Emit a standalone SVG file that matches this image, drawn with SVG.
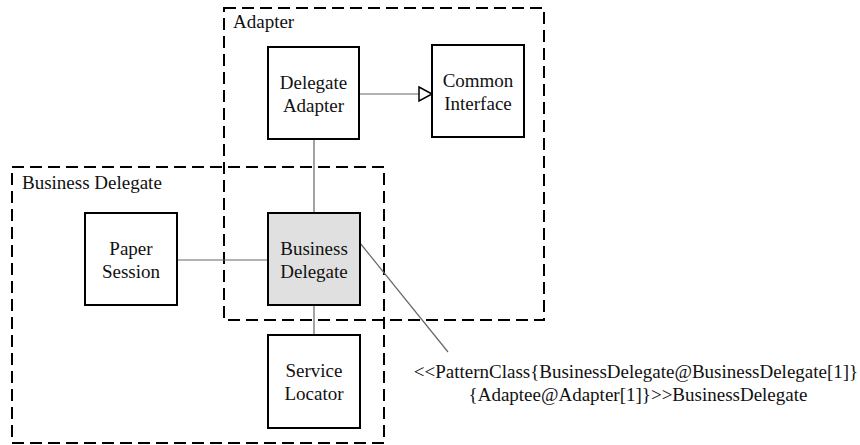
<svg xmlns="http://www.w3.org/2000/svg" width="860" height="445" viewBox="0 0 860 445">
<style>
.frame{fill:none;stroke:#000;stroke-width:2;stroke-dasharray:12,6}
.box{fill:#fff;stroke:#000;stroke-width:2}
.hl{fill:#e0e0e0}
.conn{fill:none;stroke:#666;stroke-width:1.2}
text{font-family:"Liberation Serif","Times New Roman",serif;font-size:19px;fill:#111}
.c{text-anchor:middle}
</style>
<defs>
<marker id="tri" markerWidth="16" markerHeight="16" refX="14" refY="8" orient="auto" markerUnits="userSpaceOnUse">
<path d="M1,1 L14,8 L1,15 Z" fill="#fff" stroke="#000" stroke-width="1.5"/>
</marker>
</defs>
<g id="frame-adapter">
<rect class="frame" x="224" y="8" width="320" height="312"/>
<text x="233" y="28">Adapter</text>
</g>
<g id="frame-business-delegate">
<rect class="frame" x="12" y="167" width="372" height="276"/>
<text x="22" y="189">Business Delegate</text>
</g>
<g id="connectors">
<line class="conn" x1="360" y1="94" x2="432" y2="94" marker-end="url(#tri)"/>
<line class="conn" x1="314" y1="139" x2="314" y2="213"/>
<line class="conn" x1="177" y1="260" x2="268" y2="260"/>
<line class="conn" x1="314" y1="305" x2="314" y2="335"/>
<line class="conn" x1="360" y1="243" x2="448" y2="352"/>
</g>
<g id="delegate-adapter">
<rect class="box" x="268" y="47" width="91" height="92"/>
<text class="c" x="313.5" y="89">Delegate</text>
<text class="c" x="313.5" y="112">Adapter</text>
</g>
<g id="common-interface">
<rect class="box" x="432" y="45" width="92" height="92"/>
<text class="c" x="478" y="87">Common</text>
<text class="c" x="478" y="110">Interface</text>
</g>
<g id="paper-session">
<rect class="box" x="85" y="213" width="92" height="92"/>
<text class="c" x="131" y="255">Paper</text>
<text class="c" x="131" y="278">Session</text>
</g>
<g id="business-delegate">
<rect class="box hl" x="268" y="213" width="92" height="92"/>
<text class="c" x="314" y="255">Business</text>
<text class="c" x="314" y="278">Delegate</text>
</g>
<g id="service-locator">
<rect class="box" x="268" y="335" width="92" height="93"/>
<text class="c" x="314" y="377">Service</text>
<text class="c" x="314" y="400">Locator</text>
</g>
<g id="note">
<text class="c" x="636" y="378">&lt;&lt;PatternClass{BusinessDelegate@BusinessDelegate[1]}</text>
<text class="c" x="638" y="401">{Adaptee@Adapter[1]}&gt;&gt;BusinessDelegate</text>
</g>
</svg>
